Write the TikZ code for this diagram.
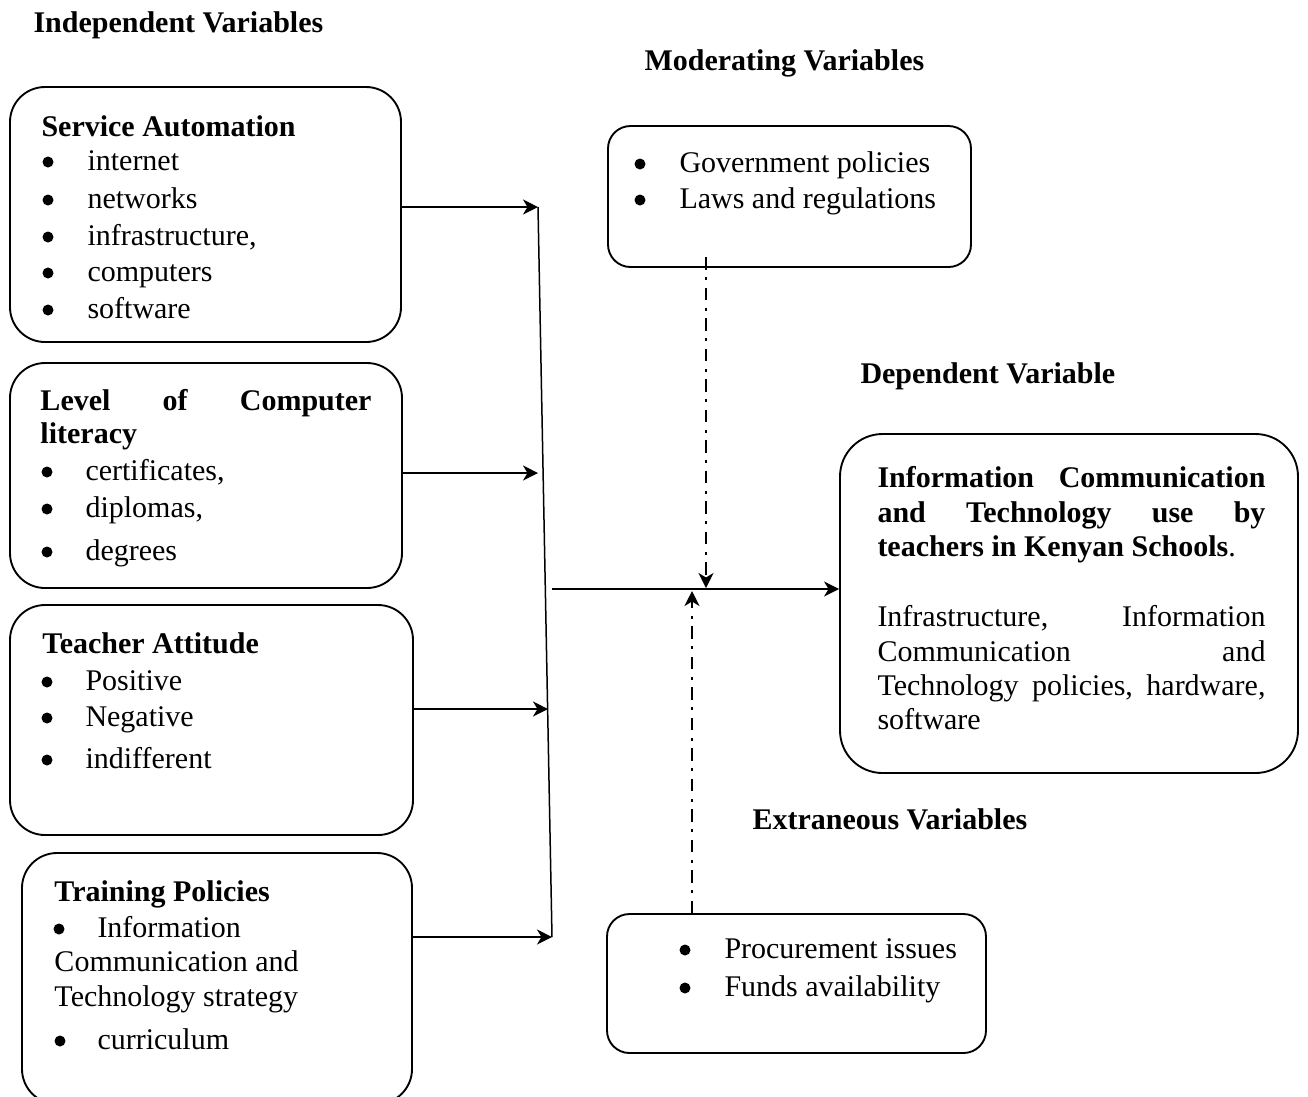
\documentclass[tikz,border=0pt]{standalone}
\usepackage{fontspec}
\setmainfont{Liberation Serif}
\usetikzlibrary{arrows.meta}
\begin{document}
\begin{tikzpicture}[x=0.4pt,y=-0.4pt,
  box/.style={draw,line width=0.75pt,rounded corners=14pt,inner sep=0pt},
  txt/.style={anchor=base west,inner sep=0pt,text height=8pt,text depth=1pt,font=\fontsize{12}{14.8}\selectfont},
  hd/.style={txt,font=\fontsize{12}{14.8}\selectfont\bfseries},
  dot/.style={circle,fill,inner sep=0pt,minimum size=4.4pt},
  tip/.style={-{Stealth[length=6pt,width=6pt,inset=1.8pt]}},
  arr/.style={line width=0.6pt,tip},
  ln/.style={line width=0.6pt},
  dd/.style={line width=0.8pt,dash pattern=on 5pt off 3pt on 1.2pt off 3pt}
]
\useasboundingbox (0,0) rectangle (1308,1096);
\clip (0,0) rectangle (1308,1096);
% headers
\node[hd] (h1) at (33,32) {Independent Variables};
\node[hd] (h2) at (644,70) {Moderating Variables};
\node[hd] (h3) at (860,383) {Dependent Variable};
\node[hd] (h4) at (752,829) {Extraneous Variables};
% boxes
\node[box,minimum width=156.4pt,minimum height=102pt] (b1) at (205.5,214.5) {};
\node[box,minimum width=156.8pt,minimum height=90pt] (b2) at (206,475.5) {};
\node[box,minimum width=161.2pt,minimum height=92pt] (b3) at (211.5,720) {};
\node[box,minimum width=156pt,minimum height=100.4pt] (b4) at (217,978.5) {};
\node[box,rounded corners=9pt,minimum width=145.2pt,minimum height=56.4pt] (mod) at (789.5,196.5) {};
\node[box,rounded corners=9pt,minimum width=151.6pt,minimum height=55.6pt] (ext) at (796.5,983.5) {};
\node[box,rounded corners=17pt,minimum width=183.2pt,minimum height=135.6pt] (dep) at (1069,603.5) {};
% box 1
\node[hd] (b1t) at (41,136) {Service Automation};
\node[dot] (b1b1) at (48,162) {}; \node[txt] (b1i1) at (87,170) {internet};
\node[dot] (b1b2) at (48,200) {}; \node[txt] (b1i2) at (87,208) {networks};
\node[dot] (b1b3) at (48,237) {}; \node[txt] (b1i3) at (87,245) {infrastructure,};
\node[dot] (b1b4) at (48,273) {}; \node[txt] (b1i4) at (87,281) {computers};
\node[dot] (b1b5) at (48,310) {}; \node[txt] (b1i5) at (87,318) {software};
% box 2
\node[hd] (b2t) at (40,410) {\makebox[132.4pt][l]{Level\hfill of\hfill Computer}};
\node[hd] (b2t2) at (40,443) {literacy};
\node[dot] (b2b1) at (47,472) {}; \node[txt] (b2i1) at (85,480) {certificates,};
\node[dot] (b2b2) at (47,509) {}; \node[txt] (b2i2) at (85,517) {diplomas,};
\node[dot] (b2b3) at (47,552) {}; \node[txt] (b2i3) at (85,560) {degrees};
% box 3
\node[hd] (b3t) at (42,653) {Teacher Attitude};
\node[dot] (b3b1) at (47,682) {}; \node[txt] (b3i1) at (85,690) {Positive};
\node[dot] (b3b2) at (47,718) {}; \node[txt] (b3i2) at (85,726) {Negative};
\node[dot] (b3b3) at (47,760) {}; \node[txt] (b3i3) at (85,768) {indifferent};
% box 4
\node[hd] (b4t) at (54,901) {Training Policies};
\node[dot] (b4b1) at (59,929) {}; \node[txt] (b4i1) at (97,937) {Information};
\node[txt] (b4i2) at (54,971) {Communication and};
\node[txt] (b4i3) at (54,1006) {Technology strategy};
\node[dot] (b4b2) at (60,1041) {}; \node[txt] (b4i4) at (97,1049) {curriculum};
% moderating
\node[dot] (mb1) at (640,164) {}; \node[txt] (mi1) at (679,172) {Government policies};
\node[dot] (mb2) at (640,200) {}; \node[txt] (mi2) at (679,208) {Laws and regulations};
% extraneous
\node[dot] (eb1) at (685,950) {}; \node[txt] (ei1) at (724,958) {Procurement issues};
\node[dot] (eb2) at (685,988) {}; \node[txt] (ei2) at (724,996) {Funds availability};
% dependent
\node[hd] (d1) at (877,487) {\makebox[155.2pt][l]{Information\hfill Communication}};
\node[hd] (d2) at (877,522) {\makebox[155.2pt][l]{and\hfill Technology\hfill use\hfill by}};
\node[txt] (d3) at (877,556) {\textbf{teachers in Kenyan Schools}.};
\node[txt] (d4) at (877,626) {\makebox[155.2pt][l]{Infrastructure,\hfill Information}};
\node[txt] (d5) at (877,661) {\makebox[155.2pt][l]{Communication\hfill and}};
\node[txt] (d6) at (877,695) {\makebox[155.2pt][l]{Technology\hfill policies,\hfill hardware,}};
\node[txt] (d7) at (877,729) {software};
% connectors
\coordinate (t1) at (538,207);
\coordinate (t2) at (538,473);
\coordinate (t3) at (548,709);
\coordinate (t4) at (552,937);
\coordinate (h0) at (552,589);
\coordinate (m1) at (706,257);
\coordinate (m2) at (706,588);
\coordinate (e2) at (692,591);
\draw[arr] (b1.east |- t1) -- (t1);
\draw[arr] (b2.east |- t2) -- (t2);
\draw[arr] (b3.east |- t3) -- (t3);
\draw[arr] (b4.east |- t4) -- (t4);
\draw[ln] (t1) -- (t4);
\draw[arr] (h0) -- (dep.west |- h0);
\draw[dd,tip] (m1) -- (m2);
\draw[dd,tip] (ext.north -| e2) -- (e2);
\end{tikzpicture}
\end{document}
